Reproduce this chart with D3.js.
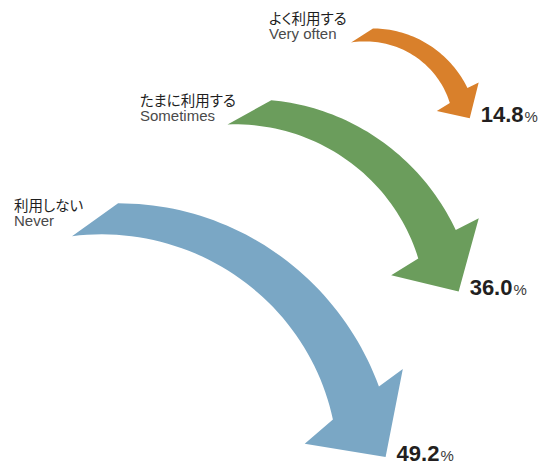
<!DOCTYPE html>
<html><head><meta charset="utf-8">
<script src="https://cdn.jsdelivr.net/npm/d3@7"></script>
<style>
html,body{margin:0;padding:0;background:#fff;}
svg{display:block;}
.jp{font-family:"Noto Sans CJK JP",sans-serif;font-feature-settings:"palt";fill:#1e1e1e;font-size:14.5px;}
.en{font-family:"Liberation Sans",Arial,sans-serif;fill:#4a4a4a;font-size:15px;}
.num{font-family:"Liberation Sans",Arial,sans-serif;fill:#231f20;}
</style></head><body>
<svg id="chart" width="544" height="469"></svg>
<script>
// answer categories and their shares (%)
const categoriesJa = ["よく利用する", "たまに利用する", "利用しない"];
const categoriesEn = ["Very often", "Sometimes", "Never"];
const shares = [14.8, 36.0, 49.2];
const colors = ["#d9802b", "#6b9d5c", "#7aa7c5"];

// geometry of each curved arrow: arc centre, centre-line radius,
// angles in degrees measured clockwise from 12 o'clock
const arcLayout = [
  {cx: 369, cy: 132, r: 97,  tailIn: -11.3, tailOut: 2.2, head: 68.1, notch: 2.2,  turn: 3.7,  label: [269, 24]},
  {cx: 243, cy: 321, r: 209, tailIn: -4.5,  tailOut: 7.3, head: 68.6, notch: 1.75, turn: 2.9,  label: [140, 106]},
  {cx: 110, cy: 476, r: 257, tailIn: -9.0,  tailOut: 1.7, head: 73.7, notch: 2.1,  turn: 12.3, label: [14, 211]}
];

// arrow width at the head grows with the share
const headWidth = d3.scaleLog().domain([10, 50]).range([11.7, 53.9]);

const svg = d3.select("#chart");
const rad = a => a * Math.PI / 180;
const line = d3.line();

shares.forEach((v, i) => {
  const L = arcLayout[i];
  const w1 = headWidth(v);
  const w0 = 0.56 * w1;
  const tailMid = (L.tailIn + L.tailOut) / 2;
  const widthAt = d3.scaleLinear().domain([tailMid, L.head]).range([w0, w1]);
  const pt = (rr, a) => [L.cx + rr * Math.sin(rad(a)), L.cy - rr * Math.cos(rad(a))];

  const n = 48;
  const outerA = d3.range(n + 1).map(k => L.tailOut + (L.head - L.notch - L.tailOut) * k / n);
  const innerA = d3.range(n + 1).map(k => L.tailIn + (L.head + L.notch - L.tailIn) * k / n);
  const outer = outerA.map(a => pt(L.r + widthAt(a) / 2, a));
  const inner = innerA.map(a => pt(L.r - widthAt(a) / 2, a));

  // arrow head frame
  const M = pt(L.r, L.head);
  const phi = rad(L.head - L.turn);
  const d = [Math.cos(phi), Math.sin(phi)];
  const nn = [Math.sin(phi), -Math.cos(phi)];
  const at = (along, across) => [M[0] + d[0] * along + nn[0] * across, M[1] + d[1] * along + nn[1] * across];
  const barbOut = at(-0.16 * w1, 1.07 * w1);
  const tip = at(1.13 * w1, 0);
  const barbIn = at(0.19 * w1, -1.21 * w1);

  const poly = outer.concat([barbOut, tip, barbIn], inner.slice().reverse());
  svg.append("path").attr("d", line(poly) + "Z").attr("fill", colors[i]);

  // two-line category label
  const lab = svg.append("text").attr("x", L.label[0]).attr("y", L.label[1]);
  lab.append("tspan").attr("class", "jp").text(categoriesJa[i]);
  lab.append("tspan").attr("class", "en").attr("x", L.label[0]).attr("dy", 15).text(categoriesEn[i]);

  // value label beside the tip
  const t = svg.append("text").attr("class", "num").attr("x", tip[0] + 11).attr("y", tip[1] + 4);
  t.append("tspan").attr("font-size", 22).attr("font-weight", "bold").text(d3.format(".1f")(v));
  t.append("tspan").attr("font-size", 15).attr("fill", "#3a3a3a").attr("dx", 1).text("%");
});
</script>
</body></html>
